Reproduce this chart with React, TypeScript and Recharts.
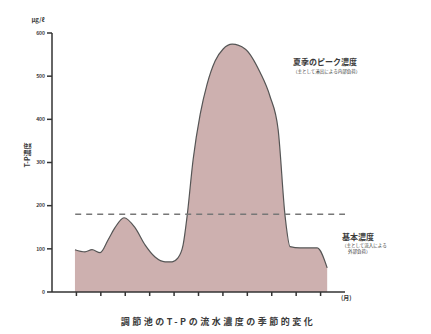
import React from 'react';
import { AreaChart, Area, XAxis, YAxis, ReferenceLine } from 'recharts';

// months (x) and T-P concentration (y)
const months = [0.94, 1.35, 1.64, 1.97, 2.3, 2.58, 2.95, 3.4, 3.81, 4.22, 4.63, 4.92, 5.16, 5.37, 5.53, 5.78, 6.07, 6.35, 6.68, 7.01, 7.38, 7.91, 8.52, 8.93, 9.26, 9.55, 9.75, 10.16, 10.86, 11.27];
const concentration = [98, 93, 98, 91, 121, 149, 172, 149, 109, 81, 70, 70, 79, 109, 174, 307, 412, 481, 535, 563, 574, 563, 509, 453, 377, 174, 105, 102, 102, 56];
const yTicks = [0, 100, 200, 300, 400, 500, 600];
const xTicks = [1, 2, 3, 4, 5, 6, 7, 8, 9, 10, 11];
const baseLevel = 180;

const data = months.map((m, i) => ({ month: m, tp: concentration[i] }));

const textColor = '#3a3a3a';
const font = '"Noto Sans CJK JP", "Noto Sans", sans-serif';

export default function App() {
  return (
    <div style={{ position: 'absolute', left: 0, top: 0, width: 431, height: 334, background: '#fff', fontFamily: font }}>
      <AreaChart
        width={431}
        height={334}
        data={data}
        margin={{ top: 33, right: 86, left: 0, bottom: 0 }}
      >
        <XAxis
          dataKey="month"
          type="number"
          domain={[0, 12]}
          ticks={xTicks}
          tickFormatter={() => ''}
          stroke="#333"
          strokeWidth={1.5}
          tickSize={4}
          height={42}
        />
        <YAxis
          type="number"
          domain={[0, 600]}
          ticks={yTicks}
          width={52}
          stroke="#333"
          strokeWidth={1.5}
          tickSize={5}
          tick={{ fontSize: 5, fill: textColor, fontWeight: 700 }}
        />
        <Area
          type="monotone"
          dataKey="tp"
          stroke="#555"
          strokeWidth={1.2}
          fill="#cdb0af"
          fillOpacity={1}
          isAnimationActive={false}
        />
        <ReferenceLine
          segment={[{ x: 0.95, y: baseLevel }, { x: 12, y: baseLevel }]}
          stroke="#777"
          strokeWidth={1.5}
          strokeDasharray="6 5"
        />
      </AreaChart>
      <svg width={431} height={334} style={{ position: 'absolute', left: 0, top: 0, pointerEvents: 'none' }}>
        <text x={38} y={22} fontSize={6} fill={textColor} fontWeight={700} textAnchor="middle">μg/ℓ</text>
        <text x={30} y={155} fontSize={7} fill={textColor} fontWeight={700} textAnchor="middle" transform="rotate(-90 30 155)">T-P濃度</text>
        <text x={341} y={300} fontSize={6} fill={textColor} fontWeight={700}>(月)</text>
        <text x={293} y={65} fontSize={8} fill={textColor} fontWeight={700}>夏季のピーク濃度</text>
        <text x={293} y={73} fontSize={4.5} fill={textColor}>（主として溶出による内部負荷）</text>
        <text x={342} y={240} fontSize={8} fill={textColor} fontWeight={700}>基本濃度</text>
        <text x={342} y={247} fontSize={4.5} fill={textColor}>（主として流入による</text>
        <text x={348} y={253} fontSize={4.5} fill={textColor}>外部負荷）</text>
        <text x={218} y={325} fontSize={9} fill={textColor} fontWeight={700} textAnchor="middle" letterSpacing={2.5}>調節池のT-Pの流水濃度の季節的変化</text>
      </svg>
    </div>
  );
}
